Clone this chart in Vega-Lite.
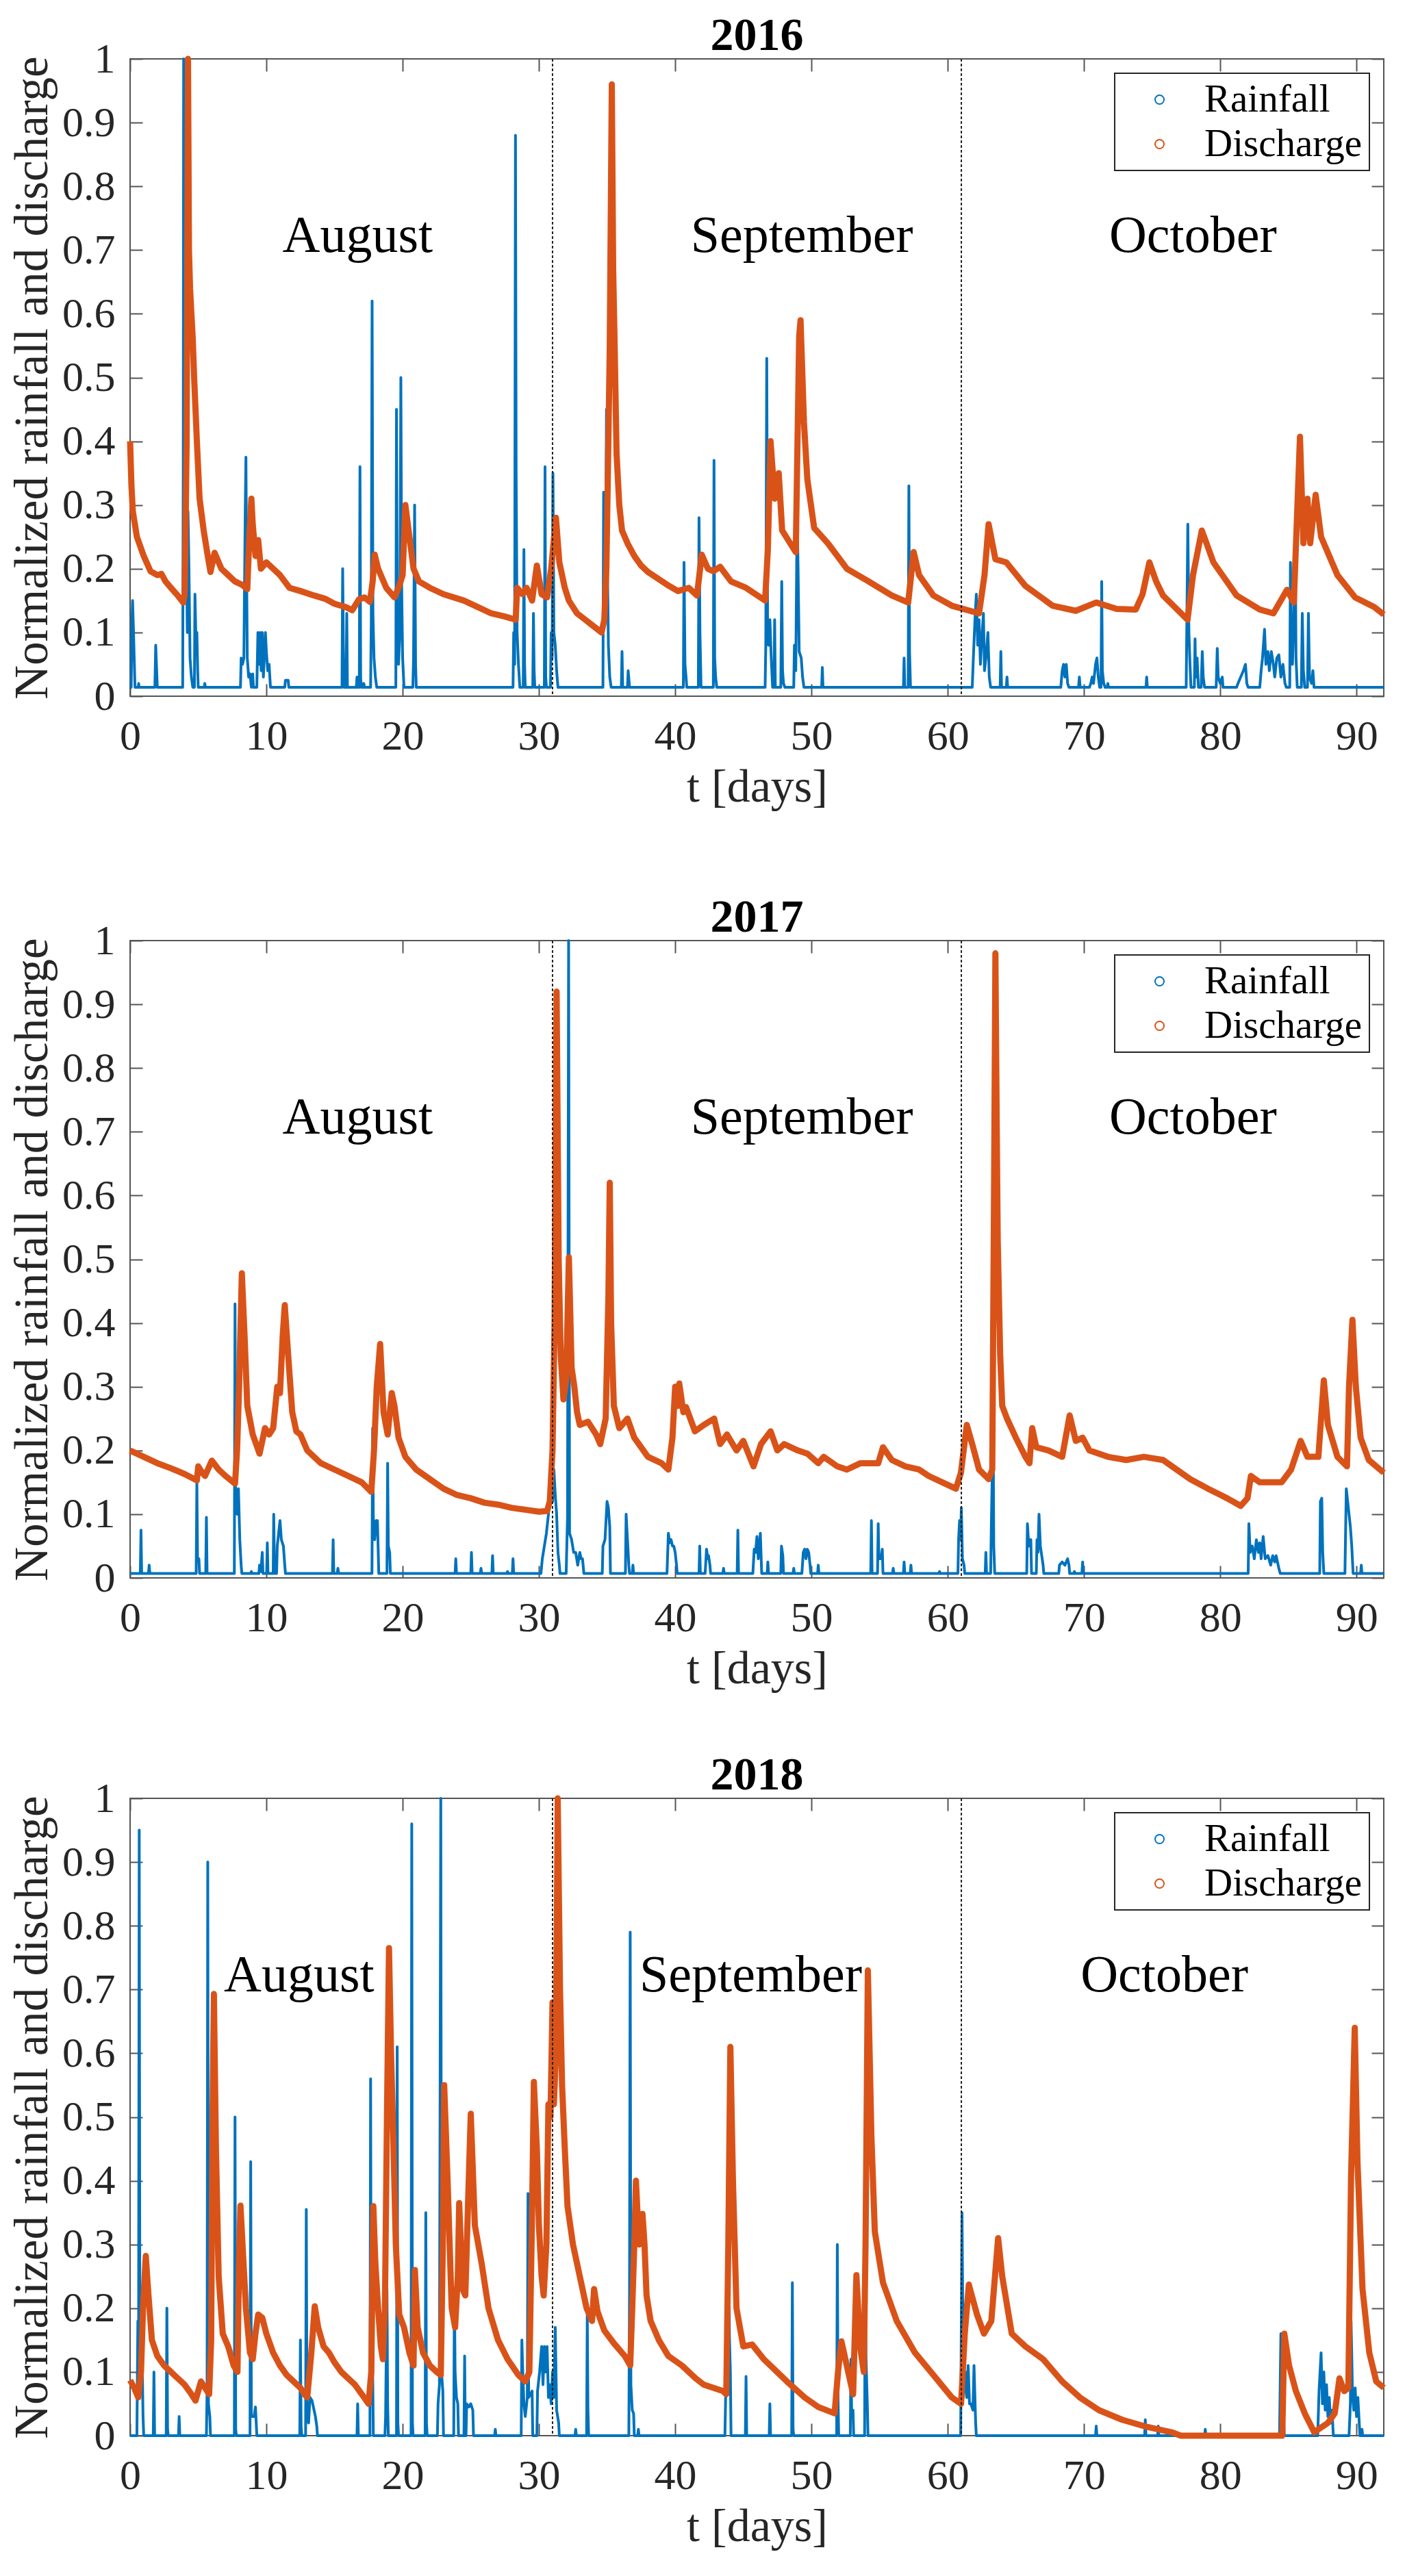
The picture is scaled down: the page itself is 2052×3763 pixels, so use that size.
{
  "$schema": "https://vega.github.io/schema/vega-lite/v6.json",
  "background": "white",
  "padding": {"left": 12, "top": 18, "right": 0, "bottom": 0},
  "config": {
    "font": "Liberation Serif",
    "style": {"guide-label": {"font": "Liberation Serif"}, "guide-title": {"font": "Liberation Serif"}},
    "view": {"stroke": "#555555", "strokeWidth": 2},
    "axis": {
      "labelFont": "Liberation Serif", "titleFont": "Liberation Serif",
      "grid": false, "domain": false,
      "tickColor": "#555555", "tickWidth": 2, "tickSize": -18,
      "labelFlush": false, "labelOverlap": false,
      "labelColor": "#262626", "titleColor": "#262626",
      "labelFontSize": 62, "titleFontSize": 68, "titleFontWeight": "normal"
    },
    "axisX": {"labelPadding": 46, "titlePadding": 10},
    "axisY": {"labelPadding": 40, "titlePadding": 8, "titleFontSize": 69},
    "title": {"font": "Liberation Serif", "fontSize": 68, "fontWeight": "bold", "color": "#000000", "baseline": "alphabetic", "offset": -32, "anchor": "middle"},
    "legend": {
      "orient": "top-right", "offset": 21,
      "labelFont": "Liberation Serif", "labelFontSize": 57, "labelColor": "#000000", "labelLimit": 0,
      "symbolType": "circle", "symbolSize": 170, "symbolStrokeWidth": 2,
      "strokeColor": "#262626", "strokeWidth": 2, "fillColor": "white",
      "padding": 10, "symbolOffset": 27, "labelOffset": 37, "rowPadding": 7
    }
  },
  "datasets": {
    "r2016": [
      {"t":0,"v":0.014},{"t":0.08,"v":0.014},{"t":0.12,"v":0.1},{"t":0.18,"v":0.15},{"t":0.24,"v":0.11},{"t":0.3,"v":0.06},{"t":0.36,"v":0.014},
      {"t":0.6,"v":0.014},{"t":0.63,"v":0.02},{"t":0.66,"v":0.014},
      {"t":1.82,"v":0.014},{"t":1.88,"v":0.08},{"t":1.95,"v":0.04},{"t":2.0,"v":0.014},
      {"t":3.86,"v":0.014},{"t":3.9,"v":0.34},{"t":3.93,"v":1.0},{"t":3.96,"v":0.64},{"t":4.0,"v":0.56},{"t":4.05,"v":0.45},{"t":4.1,"v":0.3},{"t":4.15,"v":0.2},{"t":4.2,"v":0.1},{"t":4.25,"v":0.29},{"t":4.32,"v":0.2},{"t":4.4,"v":0.06},{"t":4.5,"v":0.03},{"t":4.6,"v":0.014},
      {"t":4.72,"v":0.014},{"t":4.76,"v":0.16},{"t":4.82,"v":0.1},{"t":4.9,"v":0.1},{"t":4.96,"v":0.04},{"t":5.0,"v":0.014},
      {"t":5.45,"v":0.014},{"t":5.48,"v":0.02},{"t":5.52,"v":0.014},
      {"t":8.1,"v":0.014},{"t":8.15,"v":0.06},{"t":8.25,"v":0.05},{"t":8.35,"v":0.06},{"t":8.45,"v":0.29},{"t":8.5,"v":0.375},{"t":8.55,"v":0.2},{"t":8.6,"v":0.06},{"t":8.7,"v":0.03},{"t":8.8,"v":0.035},{"t":8.9,"v":0.014},{"t":9.0,"v":0.035},{"t":9.05,"v":0.014},
      {"t":9.3,"v":0.014},{"t":9.38,"v":0.1},{"t":9.45,"v":0.05},{"t":9.55,"v":0.1},{"t":9.62,"v":0.04},{"t":9.7,"v":0.1},{"t":9.78,"v":0.03},{"t":9.85,"v":0.06},{"t":9.93,"v":0.1},{"t":10.0,"v":0.07},{"t":10.1,"v":0.04},{"t":10.2,"v":0.05},{"t":10.3,"v":0.014},
      {"t":11.35,"v":0.014},{"t":11.4,"v":0.025},{"t":11.6,"v":0.025},{"t":11.65,"v":0.014},
      {"t":15.55,"v":0.014},{"t":15.6,"v":0.2},{"t":15.65,"v":0.08},{"t":15.7,"v":0.014},
      {"t":15.85,"v":0.014},{"t":15.9,"v":0.13},{"t":15.95,"v":0.014},
      {"t":16.6,"v":0.014},{"t":16.65,"v":0.03},{"t":16.7,"v":0.014},
      {"t":16.82,"v":0.014},{"t":16.87,"v":0.36},{"t":16.92,"v":0.03},{"t":16.97,"v":0.014},
      {"t":17.1,"v":0.014},{"t":17.15,"v":0.02},{"t":17.2,"v":0.014},
      {"t":17.65,"v":0.014},{"t":17.7,"v":0.12},{"t":17.76,"v":0.62},{"t":17.82,"v":0.13},{"t":17.9,"v":0.06},{"t":18.0,"v":0.03},{"t":18.1,"v":0.014},
      {"t":19.5,"v":0.014},{"t":19.55,"v":0.45},{"t":19.62,"v":0.07},{"t":19.7,"v":0.05},{"t":19.8,"v":0.1},{"t":19.87,"v":0.5},{"t":19.93,"v":0.17},{"t":20.0,"v":0.06},{"t":20.1,"v":0.014},
      {"t":20.75,"v":0.014},{"t":20.8,"v":0.06},{"t":20.88,"v":0.3},{"t":20.95,"v":0.05},{"t":21.0,"v":0.014},
      {"t":28.1,"v":0.014},{"t":28.15,"v":0.1},{"t":28.22,"v":0.05},{"t":28.28,"v":0.88},{"t":28.33,"v":0.35},{"t":28.4,"v":0.1},{"t":28.5,"v":0.05},{"t":28.6,"v":0.014},
      {"t":28.85,"v":0.014},{"t":28.9,"v":0.23},{"t":28.95,"v":0.05},{"t":29.0,"v":0.014},
      {"t":29.55,"v":0.014},{"t":29.6,"v":0.13},{"t":29.65,"v":0.04},{"t":29.7,"v":0.014},
      {"t":30.4,"v":0.014},{"t":30.45,"v":0.36},{"t":30.5,"v":0.03},{"t":30.55,"v":0.014},
      {"t":30.85,"v":0.014},{"t":30.9,"v":0.1},{"t":30.97,"v":0.06},{"t":31.03,"v":0.35},{"t":31.1,"v":0.1},{"t":31.2,"v":0.08},{"t":31.3,"v":0.04},{"t":31.4,"v":0.014},
      {"t":34.7,"v":0.014},{"t":34.75,"v":0.32},{"t":34.82,"v":0.12},{"t":34.9,"v":0.2},{"t":34.96,"v":0.45},{"t":35.03,"v":0.2},{"t":35.1,"v":0.08},{"t":35.2,"v":0.03},{"t":35.3,"v":0.014},
      {"t":36.05,"v":0.014},{"t":36.1,"v":0.07},{"t":36.15,"v":0.014},
      {"t":36.5,"v":0.014},{"t":36.55,"v":0.04},{"t":36.65,"v":0.014},
      {"t":40.6,"v":0.014},{"t":40.65,"v":0.21},{"t":40.72,"v":0.05},{"t":40.8,"v":0.03},{"t":40.85,"v":0.014},
      {"t":41.7,"v":0.014},{"t":41.75,"v":0.28},{"t":41.82,"v":0.1},{"t":41.9,"v":0.014},
      {"t":42.8,"v":0.014},{"t":42.85,"v":0.37},{"t":42.9,"v":0.06},{"t":42.97,"v":0.03},{"t":43.05,"v":0.014},
      {"t":46.6,"v":0.014},{"t":46.65,"v":0.08},{"t":46.72,"v":0.53},{"t":46.78,"v":0.12},{"t":46.85,"v":0.08},{"t":46.95,"v":0.12},{"t":47.05,"v":0.06},{"t":47.15,"v":0.014},
      {"t":47.25,"v":0.014},{"t":47.3,"v":0.12},{"t":47.35,"v":0.014},
      {"t":47.75,"v":0.014},{"t":47.82,"v":0.18},{"t":47.88,"v":0.04},{"t":47.95,"v":0.02},{"t":48.05,"v":0.014},
      {"t":48.7,"v":0.014},{"t":48.75,"v":0.08},{"t":48.85,"v":0.04},{"t":48.95,"v":0.29},{"t":49.02,"v":0.2},{"t":49.1,"v":0.07},{"t":49.25,"v":0.06},{"t":49.35,"v":0.03},{"t":49.45,"v":0.014},
      {"t":50.75,"v":0.014},{"t":50.8,"v":0.045},{"t":50.85,"v":0.014},
      {"t":56.75,"v":0.014},{"t":56.8,"v":0.06},{"t":56.85,"v":0.014},
      {"t":57.1,"v":0.014},{"t":57.15,"v":0.33},{"t":57.2,"v":0.07},{"t":57.27,"v":0.014},
      {"t":61.8,"v":0.014},{"t":61.9,"v":0.07},{"t":62.0,"v":0.12},{"t":62.1,"v":0.16},{"t":62.2,"v":0.08},{"t":62.3,"v":0.12},{"t":62.4,"v":0.05},{"t":62.5,"v":0.09},{"t":62.62,"v":0.13},{"t":62.7,"v":0.04},{"t":62.8,"v":0.06},{"t":62.95,"v":0.1},{"t":63.05,"v":0.03},{"t":63.15,"v":0.014},
      {"t":63.85,"v":0.014},{"t":63.9,"v":0.07},{"t":63.95,"v":0.014},
      {"t":64.3,"v":0.014},{"t":64.35,"v":0.03},{"t":64.4,"v":0.014},
      {"t":68.3,"v":0.014},{"t":68.4,"v":0.04},{"t":68.5,"v":0.05},{"t":68.6,"v":0.03},{"t":68.7,"v":0.05},{"t":68.8,"v":0.02},{"t":68.9,"v":0.014},
      {"t":69.6,"v":0.014},{"t":69.66,"v":0.03},{"t":69.72,"v":0.014},
      {"t":70.4,"v":0.014},{"t":70.5,"v":0.02},{"t":70.6,"v":0.03},{"t":70.7,"v":0.02},{"t":70.85,"v":0.05},{"t":70.95,"v":0.06},{"t":71.05,"v":0.03},{"t":71.15,"v":0.014},
      {"t":71.25,"v":0.014},{"t":71.3,"v":0.18},{"t":71.35,"v":0.04},{"t":71.45,"v":0.02},{"t":71.55,"v":0.014},
      {"t":71.7,"v":0.014},{"t":71.75,"v":0.02},{"t":71.8,"v":0.014},
      {"t":74.55,"v":0.014},{"t":74.6,"v":0.03},{"t":74.65,"v":0.014},
      {"t":77.5,"v":0.014},{"t":77.55,"v":0.12},{"t":77.62,"v":0.27},{"t":77.7,"v":0.1},{"t":77.78,"v":0.05},{"t":77.85,"v":0.014},
      {"t":78.1,"v":0.014},{"t":78.15,"v":0.09},{"t":78.2,"v":0.03},{"t":78.3,"v":0.06},{"t":78.4,"v":0.014},
      {"t":78.6,"v":0.014},{"t":78.68,"v":0.07},{"t":78.75,"v":0.03},{"t":78.85,"v":0.014},
      {"t":79.7,"v":0.014},{"t":79.78,"v":0.075},{"t":79.85,"v":0.03},{"t":80.0,"v":0.02},{"t":80.15,"v":0.03},{"t":80.2,"v":0.014},
      {"t":81.2,"v":0.014},{"t":81.3,"v":0.02},{"t":81.5,"v":0.03},{"t":81.7,"v":0.04},{"t":81.85,"v":0.05},{"t":81.95,"v":0.02},{"t":82.05,"v":0.014},
      {"t":82.9,"v":0.014},{"t":83.0,"v":0.04},{"t":83.1,"v":0.06},{"t":83.25,"v":0.105},{"t":83.35,"v":0.05},{"t":83.5,"v":0.07},{"t":83.6,"v":0.04},{"t":83.75,"v":0.07},{"t":83.9,"v":0.05},{"t":84.0,"v":0.03},{"t":84.15,"v":0.06},{"t":84.3,"v":0.065},{"t":84.45,"v":0.03},{"t":84.6,"v":0.05},{"t":84.75,"v":0.02},{"t":84.85,"v":0.014},
      {"t":85.1,"v":0.014},{"t":85.15,"v":0.21},{"t":85.22,"v":0.1},{"t":85.3,"v":0.05},{"t":85.4,"v":0.12},{"t":85.5,"v":0.26},{"t":85.56,"v":0.06},{"t":85.65,"v":0.014},
      {"t":85.95,"v":0.014},{"t":86.02,"v":0.13},{"t":86.1,"v":0.04},{"t":86.2,"v":0.014},
      {"t":86.4,"v":0.014},{"t":86.47,"v":0.13},{"t":86.55,"v":0.03},{"t":86.7,"v":0.02},{"t":86.8,"v":0.04},{"t":86.88,"v":0.014},
      {"t":92,"v":0.014}
    ],
    "q2016": [
      {"t":0,"v":0.4},{"t":0.1,"v":0.33},{"t":0.2,"v":0.29},{"t":0.5,"v":0.25},{"t":1,"v":0.22},{"t":1.5,"v":0.196},{"t":2,"v":0.19},{"t":2.3,"v":0.192},{"t":2.6,"v":0.18},{"t":3,"v":0.17},{"t":3.5,"v":0.158},{"t":3.9,"v":0.147},{"t":4.0,"v":0.16},{"t":4.05,"v":0.22},{"t":4.15,"v":0.4},{"t":4.25,"v":1.0},{"t":4.32,"v":0.7},{"t":4.4,"v":0.64},{"t":4.5,"v":0.6},{"t":4.6,"v":0.56},{"t":4.7,"v":0.5},{"t":4.8,"v":0.45},{"t":4.9,"v":0.4},{"t":5.1,"v":0.31},{"t":5.4,"v":0.26},{"t":5.7,"v":0.22},{"t":5.9,"v":0.195},{"t":6.2,"v":0.225},{"t":6.7,"v":0.2},{"t":7.2,"v":0.19},{"t":7.7,"v":0.18},{"t":8.2,"v":0.175},{"t":8.6,"v":0.168},{"t":8.75,"v":0.25},{"t":8.9,"v":0.31},{"t":9.0,"v":0.27},{"t":9.2,"v":0.22},{"t":9.4,"v":0.245},{"t":9.6,"v":0.2},{"t":10.0,"v":0.21},{"t":10.5,"v":0.2},{"t":11,"v":0.19},{"t":11.7,"v":0.17},{"t":12.5,"v":0.165},{"t":13.5,"v":0.158},{"t":14.3,"v":0.153},{"t":15,"v":0.145},{"t":15.8,"v":0.14},{"t":16.3,"v":0.135},{"t":16.8,"v":0.152},{"t":17.2,"v":0.155},{"t":17.6,"v":0.148},{"t":17.8,"v":0.18},{"t":17.95,"v":0.222},{"t":18.2,"v":0.2},{"t":18.8,"v":0.17},{"t":19.4,"v":0.155},{"t":19.7,"v":0.17},{"t":20.0,"v":0.19},{"t":20.2,"v":0.3},{"t":20.5,"v":0.25},{"t":20.8,"v":0.2},{"t":21.2,"v":0.18},{"t":22,"v":0.17},{"t":23,"v":0.16},{"t":24.5,"v":0.15},{"t":25.5,"v":0.14},{"t":26.5,"v":0.13},{"t":27.5,"v":0.125},{"t":28.3,"v":0.12},{"t":28.4,"v":0.17},{"t":28.8,"v":0.16},{"t":29.1,"v":0.17},{"t":29.5,"v":0.15},{"t":29.85,"v":0.205},{"t":30.2,"v":0.16},{"t":30.6,"v":0.155},{"t":30.9,"v":0.2},{"t":31.25,"v":0.28},{"t":31.5,"v":0.21},{"t":31.9,"v":0.17},{"t":32.2,"v":0.15},{"t":32.8,"v":0.13},{"t":33.4,"v":0.12},{"t":34,"v":0.11},{"t":34.6,"v":0.1},{"t":34.8,"v":0.12},{"t":34.95,"v":0.2},{"t":35.1,"v":0.4},{"t":35.2,"v":0.55},{"t":35.35,"v":0.96},{"t":35.45,"v":0.67},{"t":35.55,"v":0.56},{"t":35.7,"v":0.38},{"t":35.9,"v":0.3},{"t":36.1,"v":0.26},{"t":36.5,"v":0.24},{"t":37,"v":0.22},{"t":37.5,"v":0.205},{"t":38,"v":0.195},{"t":38.7,"v":0.185},{"t":39.4,"v":0.175},{"t":40.2,"v":0.165},{"t":41.0,"v":0.17},{"t":41.6,"v":0.158},{"t":41.95,"v":0.222},{"t":42.4,"v":0.2},{"t":42.8,"v":0.196},{"t":43.3,"v":0.203},{"t":44.1,"v":0.18},{"t":45.2,"v":0.17},{"t":46.6,"v":0.15},{"t":46.8,"v":0.23},{"t":47.0,"v":0.4},{"t":47.3,"v":0.31},{"t":47.6,"v":0.35},{"t":47.85,"v":0.26},{"t":48.85,"v":0.226},{"t":49.1,"v":0.565},{"t":49.2,"v":0.59},{"t":49.45,"v":0.43},{"t":49.7,"v":0.34},{"t":50.2,"v":0.264},{"t":51.2,"v":0.24},{"t":52.6,"v":0.2},{"t":54.2,"v":0.18},{"t":55.9,"v":0.158},{"t":57.1,"v":0.147},{"t":57.5,"v":0.226},{"t":57.9,"v":0.19},{"t":58.95,"v":0.158},{"t":60.3,"v":0.142},{"t":62.3,"v":0.13},{"t":62.7,"v":0.19},{"t":63.0,"v":0.27},{"t":63.5,"v":0.215},{"t":64.3,"v":0.21},{"t":65.7,"v":0.173},{"t":67.7,"v":0.142},{"t":69.4,"v":0.134},{"t":70.9,"v":0.147},{"t":72.4,"v":0.137},{"t":73.8,"v":0.136},{"t":74.3,"v":0.16},{"t":74.8,"v":0.21},{"t":75.3,"v":0.18},{"t":75.8,"v":0.158},{"t":77.6,"v":0.12},{"t":78.0,"v":0.19},{"t":78.65,"v":0.26},{"t":79.5,"v":0.21},{"t":81.2,"v":0.158},{"t":82.9,"v":0.136},{"t":83.9,"v":0.13},{"t":84.9,"v":0.167},{"t":85.4,"v":0.147},{"t":85.85,"v":0.407},{"t":86.1,"v":0.24},{"t":86.4,"v":0.31},{"t":86.6,"v":0.24},{"t":87.0,"v":0.316},{"t":87.4,"v":0.25},{"t":88.6,"v":0.19},{"t":89.9,"v":0.155},{"t":91.3,"v":0.14},{"t":92,"v":0.128}
    ],
    "r2017": [
      {"t":0,"v":0.007},
      {"t":0.75,"v":0.007},{"t":0.8,"v":0.075},{"t":0.85,"v":0.007},
      {"t":1.35,"v":0.007},{"t":1.4,"v":0.02},{"t":1.45,"v":0.007},
      {"t":4.85,"v":0.007},{"t":4.9,"v":0.15},{"t":4.95,"v":0.03},{"t":5.05,"v":0.03},{"t":5.1,"v":0.007},
      {"t":5.55,"v":0.007},{"t":5.6,"v":0.095},{"t":5.65,"v":0.007},
      {"t":7.65,"v":0.007},{"t":7.7,"v":0.43},{"t":7.75,"v":0.12},{"t":7.85,"v":0.1},{"t":7.95,"v":0.14},{"t":8.05,"v":0.06},{"t":8.15,"v":0.02},{"t":8.2,"v":0.007},
      {"t":8.85,"v":0.007},{"t":8.9,"v":0.01},{"t":8.95,"v":0.007},
      {"t":9.45,"v":0.007},{"t":9.5,"v":0.02},{"t":9.6,"v":0.01},{"t":9.7,"v":0.04},{"t":9.75,"v":0.007},
      {"t":10.02,"v":0.007},{"t":10.07,"v":0.055},{"t":10.12,"v":0.007},
      {"t":10.5,"v":0.007},{"t":10.54,"v":0.1},{"t":10.6,"v":0.007},
      {"t":10.75,"v":0.007},{"t":10.8,"v":0.05},{"t":10.9,"v":0.07},{"t":11.0,"v":0.09},{"t":11.1,"v":0.06},{"t":11.25,"v":0.05},{"t":11.35,"v":0.02},{"t":11.4,"v":0.007},
      {"t":14.85,"v":0.007},{"t":14.9,"v":0.06},{"t":14.95,"v":0.007},
      {"t":15.2,"v":0.007},{"t":15.25,"v":0.015},{"t":15.3,"v":0.007},
      {"t":17.75,"v":0.007},{"t":17.8,"v":0.235},{"t":17.85,"v":0.09},{"t":17.95,"v":0.06},{"t":18.05,"v":0.09},{"t":18.15,"v":0.09},{"t":18.25,"v":0.007},
      {"t":18.85,"v":0.007},{"t":18.9,"v":0.18},{"t":18.95,"v":0.05},{"t":19.05,"v":0.04},{"t":19.1,"v":0.007},
      {"t":23.85,"v":0.007},{"t":23.9,"v":0.03},{"t":23.95,"v":0.007},
      {"t":25.0,"v":0.007},{"t":25.05,"v":0.04},{"t":25.1,"v":0.007},
      {"t":25.7,"v":0.007},{"t":25.75,"v":0.015},{"t":25.8,"v":0.007},
      {"t":26.55,"v":0.007},{"t":26.6,"v":0.035},{"t":26.65,"v":0.007},
      {"t":27.65,"v":0.007},{"t":27.7,"v":0.01},{"t":27.75,"v":0.007},
      {"t":28.05,"v":0.007},{"t":28.1,"v":0.03},{"t":28.15,"v":0.007},
      {"t":30.15,"v":0.007},{"t":30.25,"v":0.03},{"t":30.4,"v":0.05},{"t":30.55,"v":0.07},{"t":30.7,"v":0.1},{"t":30.87,"v":0.15},{"t":31.0,"v":0.12},{"t":31.1,"v":0.17},{"t":31.2,"v":0.13},{"t":31.3,"v":0.1},{"t":31.4,"v":0.04},{"t":31.5,"v":0.02},{"t":31.55,"v":0.007},
      {"t":32.0,"v":0.007},{"t":32.1,"v":0.095},{"t":32.18,"v":1.0},{"t":32.25,"v":0.07},{"t":32.4,"v":0.06},{"t":32.55,"v":0.04},{"t":32.7,"v":0.04},{"t":32.85,"v":0.02},{"t":33.0,"v":0.04},{"t":33.1,"v":0.03},{"t":33.2,"v":0.03},{"t":33.3,"v":0.007},
      {"t":34.65,"v":0.007},{"t":34.7,"v":0.05},{"t":34.85,"v":0.06},{"t":35.0,"v":0.12},{"t":35.1,"v":0.11},{"t":35.2,"v":0.08},{"t":35.25,"v":0.007},
      {"t":36.35,"v":0.007},{"t":36.4,"v":0.1},{"t":36.5,"v":0.06},{"t":36.6,"v":0.02},{"t":36.65,"v":0.007},
      {"t":36.85,"v":0.007},{"t":36.9,"v":0.02},{"t":36.95,"v":0.007},
      {"t":39.4,"v":0.007},{"t":39.5,"v":0.07},{"t":39.6,"v":0.055},{"t":39.7,"v":0.06},{"t":39.8,"v":0.05},{"t":39.9,"v":0.05},{"t":40.0,"v":0.04},{"t":40.1,"v":0.02},{"t":40.15,"v":0.007},
      {"t":41.75,"v":0.007},{"t":41.8,"v":0.05},{"t":41.85,"v":0.007},
      {"t":42.2,"v":0.007},{"t":42.3,"v":0.045},{"t":42.4,"v":0.03},{"t":42.45,"v":0.035},{"t":42.55,"v":0.02},{"t":42.6,"v":0.007},
      {"t":43.5,"v":0.007},{"t":43.55,"v":0.015},{"t":43.6,"v":0.007},
      {"t":44.55,"v":0.007},{"t":44.6,"v":0.075},{"t":44.65,"v":0.007},
      {"t":45.7,"v":0.007},{"t":45.8,"v":0.045},{"t":45.9,"v":0.04},{"t":46.0,"v":0.065},{"t":46.1,"v":0.03},{"t":46.25,"v":0.07},{"t":46.35,"v":0.007},
      {"t":46.75,"v":0.007},{"t":46.8,"v":0.025},{"t":46.85,"v":0.007},
      {"t":47.75,"v":0.007},{"t":47.8,"v":0.05},{"t":47.9,"v":0.035},{"t":47.95,"v":0.007},
      {"t":48.65,"v":0.007},{"t":48.7,"v":0.015},{"t":48.75,"v":0.007},
      {"t":49.3,"v":0.007},{"t":49.4,"v":0.04},{"t":49.5,"v":0.045},{"t":49.6,"v":0.03},{"t":49.7,"v":0.045},{"t":49.8,"v":0.04},{"t":49.9,"v":0.02},{"t":49.95,"v":0.007},
      {"t":50.45,"v":0.007},{"t":50.5,"v":0.02},{"t":50.55,"v":0.007},
      {"t":54.35,"v":0.007},{"t":54.4,"v":0.09},{"t":54.45,"v":0.007},
      {"t":54.85,"v":0.007},{"t":54.9,"v":0.085},{"t":54.95,"v":0.03},{"t":55.1,"v":0.03},{"t":55.2,"v":0.045},{"t":55.25,"v":0.007},
      {"t":55.95,"v":0.007},{"t":56.0,"v":0.015},{"t":56.05,"v":0.007},
      {"t":56.75,"v":0.007},{"t":56.8,"v":0.025},{"t":56.85,"v":0.007},
      {"t":57.25,"v":0.007},{"t":57.3,"v":0.02},{"t":57.35,"v":0.007},
      {"t":59.35,"v":0.007},{"t":59.4,"v":0.01},{"t":59.45,"v":0.007},
      {"t":60.75,"v":0.007},{"t":60.8,"v":0.06},{"t":60.87,"v":0.09},{"t":60.95,"v":0.06},{"t":61.0,"v":0.11},{"t":61.08,"v":0.03},{"t":61.2,"v":0.02},{"t":61.25,"v":0.007},
      {"t":62.75,"v":0.007},{"t":62.8,"v":0.04},{"t":62.85,"v":0.007},
      {"t":63.15,"v":0.007},{"t":63.2,"v":0.08},{"t":63.27,"v":0.165},{"t":63.33,"v":0.26},{"t":63.38,"v":0.05},{"t":63.45,"v":0.007},
      {"t":65.8,"v":0.007},{"t":65.85,"v":0.085},{"t":65.95,"v":0.05},{"t":66.1,"v":0.06},{"t":66.15,"v":0.007},
      {"t":66.5,"v":0.007},{"t":66.55,"v":0.06},{"t":66.62,"v":0.04},{"t":66.7,"v":0.1},{"t":66.8,"v":0.05},{"t":66.9,"v":0.035},{"t":67.0,"v":0.02},{"t":67.05,"v":0.007},
      {"t":68.15,"v":0.007},{"t":68.2,"v":0.02},{"t":68.4,"v":0.025},{"t":68.6,"v":0.02},{"t":68.8,"v":0.03},{"t":68.9,"v":0.02},{"t":68.95,"v":0.007},
      {"t":69.25,"v":0.007},{"t":69.3,"v":0.01},{"t":69.35,"v":0.007},
      {"t":69.85,"v":0.007},{"t":69.9,"v":0.025},{"t":69.95,"v":0.007},
      {"t":82.05,"v":0.007},{"t":82.1,"v":0.085},{"t":82.2,"v":0.04},{"t":82.35,"v":0.05},{"t":82.5,"v":0.03},{"t":82.65,"v":0.06},{"t":82.8,"v":0.04},{"t":82.9,"v":0.055},{"t":83.0,"v":0.03},{"t":83.15,"v":0.065},{"t":83.3,"v":0.03},{"t":83.5,"v":0.035},{"t":83.7,"v":0.02},{"t":83.85,"v":0.035},{"t":84.0,"v":0.025},{"t":84.1,"v":0.035},{"t":84.3,"v":0.015},{"t":84.4,"v":0.007},
      {"t":87.3,"v":0.007},{"t":87.35,"v":0.12},{"t":87.45,"v":0.125},{"t":87.52,"v":0.04},{"t":87.6,"v":0.007},
      {"t":89.15,"v":0.007},{"t":89.25,"v":0.14},{"t":89.35,"v":0.12},{"t":89.45,"v":0.1},{"t":89.55,"v":0.08},{"t":89.65,"v":0.05},{"t":89.75,"v":0.007},
      {"t":90.3,"v":0.007},{"t":90.35,"v":0.02},{"t":90.4,"v":0.007},
      {"t":92,"v":0.007}
    ],
    "q2017": [
      {"t":0,"v":0.2},{"t":1,"v":0.19},{"t":2,"v":0.18},{"t":3,"v":0.172},{"t":4,"v":0.163},{"t":4.9,"v":0.153},{"t":5.0,"v":0.175},{"t":5.3,"v":0.165},{"t":5.5,"v":0.16},{"t":6.0,"v":0.184},{"t":6.5,"v":0.17},{"t":7,"v":0.16},{"t":7.7,"v":0.148},{"t":7.85,"v":0.2},{"t":8.0,"v":0.3},{"t":8.2,"v":0.478},{"t":8.4,"v":0.38},{"t":8.6,"v":0.27},{"t":9.0,"v":0.225},{"t":9.5,"v":0.195},{"t":9.9,"v":0.235},{"t":10.2,"v":0.225},{"t":10.5,"v":0.235},{"t":10.8,"v":0.3},{"t":11.0,"v":0.29},{"t":11.2,"v":0.38},{"t":11.35,"v":0.428},{"t":11.6,"v":0.35},{"t":11.9,"v":0.26},{"t":12.2,"v":0.23},{"t":12.5,"v":0.225},{"t":13,"v":0.2},{"t":14,"v":0.18},{"t":15,"v":0.17},{"t":16,"v":0.16},{"t":17,"v":0.15},{"t":17.7,"v":0.135},{"t":17.9,"v":0.2},{"t":18.1,"v":0.3},{"t":18.35,"v":0.367},{"t":18.6,"v":0.26},{"t":18.9,"v":0.225},{"t":19.2,"v":0.29},{"t":19.4,"v":0.27},{"t":19.7,"v":0.22},{"t":20.2,"v":0.19},{"t":21,"v":0.17},{"t":22,"v":0.155},{"t":23,"v":0.14},{"t":24,"v":0.13},{"t":25,"v":0.125},{"t":26,"v":0.118},{"t":27,"v":0.115},{"t":28,"v":0.11},{"t":29,"v":0.107},{"t":30,"v":0.104},{"t":30.6,"v":0.105},{"t":30.8,"v":0.12},{"t":31.0,"v":0.2},{"t":31.15,"v":0.4},{"t":31.3,"v":0.92},{"t":31.45,"v":0.5},{"t":31.6,"v":0.35},{"t":31.8,"v":0.28},{"t":32.0,"v":0.31},{"t":32.2,"v":0.503},{"t":32.4,"v":0.33},{"t":32.6,"v":0.3},{"t":32.8,"v":0.26},{"t":33.0,"v":0.24},{"t":33.6,"v":0.245},{"t":34.2,"v":0.225},{"t":34.5,"v":0.21},{"t":34.9,"v":0.25},{"t":35.1,"v":0.44},{"t":35.2,"v":0.62},{"t":35.3,"v":0.4},{"t":35.5,"v":0.27},{"t":35.9,"v":0.235},{"t":36.5,"v":0.25},{"t":37,"v":0.22},{"t":38,"v":0.19},{"t":39,"v":0.18},{"t":39.5,"v":0.17},{"t":39.8,"v":0.22},{"t":40.0,"v":0.3},{"t":40.2,"v":0.27},{"t":40.3,"v":0.305},{"t":40.6,"v":0.26},{"t":40.8,"v":0.268},{"t":41.45,"v":0.23},{"t":42.1,"v":0.24},{"t":42.86,"v":0.25},{"t":43.3,"v":0.21},{"t":43.8,"v":0.225},{"t":44.5,"v":0.2},{"t":45,"v":0.215},{"t":45.75,"v":0.175},{"t":46.3,"v":0.21},{"t":47.0,"v":0.23},{"t":47.5,"v":0.2},{"t":48.0,"v":0.21},{"t":49.0,"v":0.2},{"t":49.7,"v":0.195},{"t":50.5,"v":0.18},{"t":50.9,"v":0.19},{"t":51.9,"v":0.175},{"t":52.6,"v":0.17},{"t":53.6,"v":0.18},{"t":54.9,"v":0.18},{"t":55.25,"v":0.205},{"t":55.9,"v":0.185},{"t":56.9,"v":0.175},{"t":57.9,"v":0.17},{"t":58.6,"v":0.16},{"t":59.6,"v":0.15},{"t":60.6,"v":0.14},{"t":60.97,"v":0.165},{"t":61.4,"v":0.24},{"t":61.8,"v":0.21},{"t":62.3,"v":0.17},{"t":63.0,"v":0.155},{"t":63.27,"v":0.17},{"t":63.4,"v":0.6},{"t":63.5,"v":0.98},{"t":63.6,"v":0.7},{"t":63.67,"v":0.53},{"t":63.85,"v":0.35},{"t":64.0,"v":0.27},{"t":64.35,"v":0.25},{"t":65.0,"v":0.22},{"t":65.7,"v":0.19},{"t":66.0,"v":0.18},{"t":66.2,"v":0.235},{"t":66.5,"v":0.205},{"t":67.4,"v":0.2},{"t":68.4,"v":0.19},{"t":68.95,"v":0.255},{"t":69.4,"v":0.215},{"t":69.9,"v":0.22},{"t":70.4,"v":0.2},{"t":71.75,"v":0.19},{"t":73.1,"v":0.185},{"t":74.4,"v":0.19},{"t":75.8,"v":0.185},{"t":76.8,"v":0.17},{"t":77.8,"v":0.155},{"t":79.1,"v":0.14},{"t":80.5,"v":0.125},{"t":81.5,"v":0.113},{"t":82.0,"v":0.125},{"t":82.25,"v":0.16},{"t":82.9,"v":0.15},{"t":84.5,"v":0.15},{"t":85.2,"v":0.17},{"t":85.9,"v":0.215},{"t":86.4,"v":0.19},{"t":87.2,"v":0.19},{"t":87.6,"v":0.31},{"t":87.9,"v":0.24},{"t":88.6,"v":0.19},{"t":89.3,"v":0.175},{"t":89.45,"v":0.3},{"t":89.7,"v":0.405},{"t":89.95,"v":0.3},{"t":90.3,"v":0.22},{"t":90.9,"v":0.185},{"t":92,"v":0.165}
    ],
    "r2018": [
      {"t":0,"v":0},
      {"t":0.5,"v":0},{"t":0.57,"v":0.18},{"t":0.62,"v":0.07},{"t":0.67,"v":0.95},{"t":0.72,"v":0.1},{"t":0.8,"v":0.08},{"t":0.9,"v":0.1},{"t":0.95,"v":0.03},{"t":1.0,"v":0},
      {"t":1.7,"v":0},{"t":1.75,"v":0.1},{"t":1.8,"v":0},
      {"t":2.65,"v":0},{"t":2.7,"v":0.2},{"t":2.75,"v":0.01},{"t":2.8,"v":0},
      {"t":3.55,"v":0},{"t":3.6,"v":0.03},{"t":3.65,"v":0},
      {"t":5.6,"v":0},{"t":5.65,"v":0.07},{"t":5.7,"v":0.9},{"t":5.75,"v":0.05},{"t":5.85,"v":0.03},{"t":5.9,"v":0},
      {"t":7.65,"v":0},{"t":7.7,"v":0.5},{"t":7.75,"v":0.01},{"t":7.8,"v":0},
      {"t":8.8,"v":0},{"t":8.85,"v":0.43},{"t":8.9,"v":0.03},{"t":9.1,"v":0.03},{"t":9.2,"v":0.045},{"t":9.3,"v":0},
      {"t":12.45,"v":0},{"t":12.5,"v":0.15},{"t":12.55,"v":0.015},{"t":12.6,"v":0},
      {"t":12.88,"v":0},{"t":12.93,"v":0.355},{"t":12.98,"v":0.03},{"t":13.1,"v":0.02},{"t":13.2,"v":0.06},{"t":13.35,"v":0.055},{"t":13.5,"v":0.04},{"t":13.6,"v":0.03},{"t":13.7,"v":0.015},{"t":13.75,"v":0},
      {"t":16.65,"v":0},{"t":16.7,"v":0.05},{"t":16.75,"v":0},
      {"t":17.6,"v":0},{"t":17.65,"v":0.56},{"t":17.7,"v":0.05},{"t":17.75,"v":0.28},{"t":17.8,"v":0.1},{"t":17.85,"v":0},
      {"t":18.7,"v":0},{"t":18.75,"v":0.03},{"t":18.85,"v":0.23},{"t":18.9,"v":0.05},{"t":18.95,"v":0},
      {"t":19.55,"v":0},{"t":19.6,"v":0.61},{"t":19.65,"v":0.02},{"t":19.7,"v":0},
      {"t":20.62,"v":0},{"t":20.67,"v":0.96},{"t":20.72,"v":0.02},{"t":20.77,"v":0},
      {"t":21.65,"v":0},{"t":21.7,"v":0.35},{"t":21.75,"v":0.02},{"t":21.8,"v":0},
      {"t":22.55,"v":0},{"t":22.6,"v":0.05},{"t":22.7,"v":0.08},{"t":22.8,"v":1.0},{"t":22.85,"v":0.1},{"t":22.95,"v":0.07},{"t":23.0,"v":0},
      {"t":23.75,"v":0},{"t":23.8,"v":0.23},{"t":23.85,"v":0.1},{"t":23.95,"v":0.06},{"t":24.05,"v":0.05},{"t":24.1,"v":0},
      {"t":24.5,"v":0},{"t":24.55,"v":0.125},{"t":24.6,"v":0},
      {"t":24.65,"v":0},{"t":24.7,"v":0.05},{"t":24.85,"v":0.045},{"t":25.0,"v":0.05},{"t":25.15,"v":0.04},{"t":25.2,"v":0},
      {"t":26.75,"v":0},{"t":26.8,"v":0.01},{"t":26.85,"v":0},
      {"t":28.7,"v":0},{"t":28.75,"v":0.15},{"t":28.8,"v":0.11},{"t":28.9,"v":0.05},{"t":29.0,"v":0.03},{"t":29.15,"v":0.06},{"t":29.2,"v":0.38},{"t":29.25,"v":0.06},{"t":29.5,"v":0.07},{"t":29.55,"v":0},
      {"t":29.85,"v":0},{"t":29.9,"v":0.07},{"t":30.05,"v":0.1},{"t":30.2,"v":0.14},{"t":30.3,"v":0.08},{"t":30.4,"v":0.14},{"t":30.5,"v":0.1},{"t":30.6,"v":0.14},{"t":30.7,"v":0.06},{"t":30.8,"v":0.08},{"t":30.9,"v":0.05},{"t":31.0,"v":0.1},{"t":31.1,"v":0.06},{"t":31.2,"v":0.17},{"t":31.3,"v":0.04},{"t":31.45,"v":0.02},{"t":31.5,"v":0},
      {"t":32.65,"v":0},{"t":32.7,"v":0.01},{"t":32.75,"v":0},
      {"t":33.5,"v":0},{"t":33.55,"v":0.19},{"t":33.6,"v":0.04},{"t":33.65,"v":0},
      {"t":36.6,"v":0},{"t":36.65,"v":0.22},{"t":36.7,"v":0.79},{"t":36.75,"v":0.08},{"t":36.85,"v":0.04},{"t":36.95,"v":0.035},{"t":37.0,"v":0},
      {"t":37.25,"v":0},{"t":37.3,"v":0.01},{"t":37.35,"v":0},
      {"t":43.65,"v":0},{"t":43.74,"v":0.1},{"t":43.9,"v":0.43},{"t":43.98,"v":0.156},{"t":44.05,"v":0.1},{"t":44.1,"v":0},
      {"t":45.15,"v":0},{"t":45.2,"v":0.093},{"t":45.25,"v":0},
      {"t":46.9,"v":0},{"t":46.95,"v":0.05},{"t":47.0,"v":0},
      {"t":48.55,"v":0},{"t":48.6,"v":0.24},{"t":48.65,"v":0.01},{"t":48.7,"v":0},
      {"t":51.85,"v":0},{"t":51.9,"v":0.3},{"t":51.95,"v":0.06},{"t":52.0,"v":0},
      {"t":52.85,"v":0},{"t":52.9,"v":0.12},{"t":52.95,"v":0.04},{"t":53.05,"v":0.04},{"t":53.1,"v":0},
      {"t":53.9,"v":0},{"t":53.95,"v":0.25},{"t":54.0,"v":0.125},{"t":54.1,"v":0.05},{"t":54.15,"v":0},
      {"t":60.95,"v":0},{"t":61.05,"v":0.35},{"t":61.15,"v":0.06},{"t":61.3,"v":0.1},{"t":61.4,"v":0.06},{"t":61.5,"v":0.11},{"t":61.6,"v":0.05},{"t":61.7,"v":0.05},{"t":61.85,"v":0.04},{"t":61.93,"v":0.11},{"t":62.05,"v":0.02},{"t":62.1,"v":0},
      {"t":70.85,"v":0},{"t":70.9,"v":0.015},{"t":70.95,"v":0},
      {"t":74.45,"v":0},{"t":74.5,"v":0.025},{"t":74.55,"v":0},
      {"t":75.4,"v":0},{"t":75.45,"v":0.015},{"t":75.5,"v":0},
      {"t":78.85,"v":0},{"t":78.9,"v":0.01},{"t":78.95,"v":0},
      {"t":84.35,"v":0},{"t":84.45,"v":0.16},{"t":84.5,"v":0.1},{"t":84.6,"v":0.12},{"t":84.65,"v":0.03},{"t":84.7,"v":0},
      {"t":87.15,"v":0},{"t":87.25,"v":0.07},{"t":87.4,"v":0.13},{"t":87.5,"v":0.05},{"t":87.6,"v":0.1},{"t":87.7,"v":0.04},{"t":87.8,"v":0.08},{"t":87.9,"v":0.03},{"t":88.0,"v":0.06},{"t":88.1,"v":0.02},{"t":88.2,"v":0.04},{"t":88.3,"v":0},
      {"t":89.45,"v":0},{"t":89.55,"v":0.05},{"t":89.6,"v":0.18},{"t":89.7,"v":0.07},{"t":89.8,"v":0.04},{"t":89.9,"v":0.075},{"t":90.0,"v":0.03},{"t":90.1,"v":0.06},{"t":90.2,"v":0.02},{"t":90.25,"v":0},
      {"t":90.35,"v":0},{"t":90.4,"v":0.01},{"t":90.45,"v":0},
      {"t":92,"v":0}
    ],
    "q2018": [
      {"t":0,"v":0.087},{"t":0.3,"v":0.075},{"t":0.6,"v":0.06},{"t":0.8,"v":0.1},{"t":0.95,"v":0.2},{"t":1.15,"v":0.282},{"t":1.35,"v":0.22},{"t":1.6,"v":0.15},{"t":2,"v":0.125},{"t":2.5,"v":0.11},{"t":3,"v":0.1},{"t":3.5,"v":0.09},{"t":4,"v":0.08},{"t":4.5,"v":0.065},{"t":4.8,"v":0.055},{"t":5.0,"v":0.07},{"t":5.2,"v":0.085},{"t":5.5,"v":0.075},{"t":5.8,"v":0.065},{"t":5.95,"v":0.15},{"t":6.05,"v":0.5},{"t":6.15,"v":0.693},{"t":6.3,"v":0.45},{"t":6.5,"v":0.25},{"t":6.8,"v":0.16},{"t":7.2,"v":0.14},{"t":7.6,"v":0.11},{"t":7.88,"v":0.1},{"t":8.0,"v":0.28},{"t":8.1,"v":0.361},{"t":8.25,"v":0.3},{"t":8.5,"v":0.2},{"t":8.8,"v":0.13},{"t":9.0,"v":0.12},{"t":9.2,"v":0.16},{"t":9.4,"v":0.19},{"t":9.7,"v":0.185},{"t":10.0,"v":0.16},{"t":10.5,"v":0.13},{"t":11,"v":0.11},{"t":11.5,"v":0.095},{"t":12,"v":0.085},{"t":12.5,"v":0.075},{"t":12.8,"v":0.065},{"t":13.0,"v":0.06},{"t":13.3,"v":0.13},{"t":13.55,"v":0.203},{"t":13.8,"v":0.17},{"t":14.2,"v":0.14},{"t":14.6,"v":0.13},{"t":15,"v":0.115},{"t":15.5,"v":0.1},{"t":16,"v":0.09},{"t":16.5,"v":0.08},{"t":17,"v":0.065},{"t":17.5,"v":0.05},{"t":17.7,"v":0.1},{"t":17.85,"v":0.36},{"t":18.0,"v":0.27},{"t":18.2,"v":0.2},{"t":18.4,"v":0.14},{"t":18.55,"v":0.12},{"t":18.7,"v":0.2},{"t":18.85,"v":0.5},{"t":19.0,"v":0.765},{"t":19.15,"v":0.6},{"t":19.3,"v":0.48},{"t":19.5,"v":0.3},{"t":19.75,"v":0.19},{"t":20.1,"v":0.17},{"t":20.5,"v":0.13},{"t":20.8,"v":0.11},{"t":20.9,"v":0.26},{"t":21.1,"v":0.17},{"t":21.5,"v":0.13},{"t":22,"v":0.11},{"t":22.5,"v":0.1},{"t":22.8,"v":0.095},{"t":22.95,"v":0.3},{"t":23.05,"v":0.55},{"t":23.3,"v":0.4},{"t":23.6,"v":0.2},{"t":23.85,"v":0.17},{"t":24.05,"v":0.25},{"t":24.15,"v":0.365},{"t":24.4,"v":0.23},{"t":24.6,"v":0.22},{"t":24.85,"v":0.4},{"t":25.0,"v":0.505},{"t":25.3,"v":0.33},{"t":25.8,"v":0.27},{"t":26.3,"v":0.2},{"t":27,"v":0.15},{"t":27.7,"v":0.12},{"t":28.5,"v":0.095},{"t":29.0,"v":0.085},{"t":29.3,"v":0.1},{"t":29.5,"v":0.35},{"t":29.63,"v":0.555},{"t":29.85,"v":0.45},{"t":30.0,"v":0.33},{"t":30.2,"v":0.25},{"t":30.35,"v":0.22},{"t":30.55,"v":0.3},{"t":30.7,"v":0.52},{"t":30.85,"v":0.5},{"t":31.0,"v":0.68},{"t":31.1,"v":0.52},{"t":31.25,"v":0.6},{"t":31.38,"v":1.0},{"t":31.55,"v":0.7},{"t":31.7,"v":0.55},{"t":31.9,"v":0.45},{"t":32.1,"v":0.36},{"t":32.5,"v":0.3},{"t":33,"v":0.25},{"t":33.5,"v":0.2},{"t":33.9,"v":0.18},{"t":34.05,"v":0.23},{"t":34.3,"v":0.195},{"t":34.8,"v":0.165},{"t":35.5,"v":0.145},{"t":36.3,"v":0.125},{"t":36.7,"v":0.11},{"t":36.85,"v":0.2},{"t":37.0,"v":0.3},{"t":37.12,"v":0.4},{"t":37.35,"v":0.3},{"t":37.6,"v":0.348},{"t":37.75,"v":0.3},{"t":37.9,"v":0.22},{"t":38.2,"v":0.18},{"t":38.8,"v":0.15},{"t":39.5,"v":0.125},{"t":40.5,"v":0.11},{"t":41.5,"v":0.09},{"t":42.1,"v":0.08},{"t":43.5,"v":0.07},{"t":43.75,"v":0.065},{"t":43.9,"v":0.3},{"t":44.05,"v":0.61},{"t":44.24,"v":0.4},{"t":44.5,"v":0.2},{"t":45.0,"v":0.14},{"t":45.65,"v":0.143},{"t":46.5,"v":0.12},{"t":48.2,"v":0.085},{"t":49.5,"v":0.06},{"t":50.5,"v":0.045},{"t":51.7,"v":0.035},{"t":51.95,"v":0.1},{"t":52.2,"v":0.148},{"t":52.7,"v":0.1},{"t":53.06,"v":0.065},{"t":53.3,"v":0.252},{"t":53.57,"v":0.14},{"t":53.84,"v":0.1},{"t":53.97,"v":0.3},{"t":54.14,"v":0.73},{"t":54.4,"v":0.47},{"t":54.65,"v":0.32},{"t":55.25,"v":0.24},{"t":56.26,"v":0.18},{"t":57.6,"v":0.13},{"t":58.96,"v":0.095},{"t":60.3,"v":0.06},{"t":60.98,"v":0.05},{"t":61.25,"v":0.16},{"t":61.55,"v":0.237},{"t":62.15,"v":0.19},{"t":62.66,"v":0.16},{"t":63.2,"v":0.18},{"t":63.7,"v":0.31},{"t":64.0,"v":0.25},{"t":64.7,"v":0.16},{"t":65.7,"v":0.14},{"t":67.0,"v":0.12},{"t":68.4,"v":0.085},{"t":69.7,"v":0.06},{"t":71.1,"v":0.04},{"t":72.8,"v":0.025},{"t":74.4,"v":0.015},{"t":76.5,"v":0.005},{"t":77.1,"v":0},{"t":84.55,"v":0},{"t":84.7,"v":0.16},{"t":85.05,"v":0.11},{"t":85.55,"v":0.07},{"t":86.2,"v":0.035},{"t":86.9,"v":0.005},{"t":87.2,"v":0.01},{"t":87.9,"v":0.02},{"t":88.4,"v":0.035},{"t":88.75,"v":0.09},{"t":89.1,"v":0.07},{"t":89.4,"v":0.075},{"t":89.6,"v":0.407},{"t":89.87,"v":0.64},{"t":90.07,"v":0.43},{"t":90.44,"v":0.23},{"t":90.94,"v":0.13},{"t":91.45,"v":0.085},{"t":92,"v":0.075}
    ],
    "months": [{"t":31},{"t":61}]
  },
  "spacing": 121,
  "resolve": {"scale": {"color": "independent"}, "legend": {"color": "independent"}},
  "vconcat": [
    {
      "title": {"text": "2016"},
      "width": 1831, "height": 931,
      "resolve": {"axis": {"x": "independent", "y": "independent"}},
      "layer": [
        {
          "data": {"name": "r2016"},
          "mark": {"type": "line", "strokeWidth": 4, "strokeJoin": "round"},
          "encoding": {
            "x": {"field": "t", "type": "quantitative", "scale": {"domain": [0, 92], "nice": false}, "axis": {"values": [0,10,20,30,40,50,60,70,80,90], "title": "t [days]", "labelFont": "Liberation Serif"}},
            "y": {"field": "v", "type": "quantitative", "scale": {"domain": [0, 1], "nice": false}, "axis": {"values": [0,0.1,0.2,0.3,0.4,0.5,0.6,0.7,0.8,0.9,1], "format": "~g", "title": "Normalized rainfall and discharge", "labelFont": "Liberation Serif"}},
            "color": {"datum": "Rainfall", "scale": {"domain": ["Rainfall", "Discharge"], "range": ["#0072BD", "#D95319"]}, "legend": {"title": null}}
          }
        },
        {
          "data": {"name": "q2016"},
          "mark": {"type": "line", "strokeWidth": 9, "strokeJoin": "round"},
          "encoding": {
            "x": {"field": "t", "type": "quantitative", "axis": null},
            "y": {"field": "v", "type": "quantitative", "axis": null},
            "color": {"datum": "Discharge", "legend": {"title": null}}
          }
        },
        {
          "data": {"name": "months"},
          "mark": {"type": "rule", "color": "#222222", "strokeWidth": 2, "strokeDash": [4, 3]},
          "encoding": {"x": {"field": "t", "type": "quantitative", "axis": null}}
        },
        {
          "data": {"values": [{"t": 16.7, "m": "August"}, {"t": 49.3, "m": "September"}, {"t": 78.0, "m": "October"}]},
          "mark": {"type": "text", "font": "Liberation Serif", "fontSize": 76, "color": "#000000", "align": "center", "baseline": "alphabetic"},
          "encoding": {
            "x": {"field": "t", "type": "quantitative", "axis": {"orient": "top", "labels": false, "title": null, "values": [0,10,20,30,40,50,60,70,80,90]}},
            "y": {"datum": 0.697, "type": "quantitative", "axis": {"orient": "right", "labels": false, "title": null, "values": [0,0.1,0.2,0.3,0.4,0.5,0.6,0.7,0.8,0.9,1]}},
            "text": {"field": "m"}
          }
        }
      ]
    },
    {
      "spacing": 86,
      "resolve": {"scale": {"color": "independent"}, "legend": {"color": "independent"}},
      "vconcat": [
        {
          "title": {"text": "2017"},
          "width": 1831, "height": 931,
          "resolve": {"axis": {"x": "independent", "y": "independent"}},
          "layer": [
            {
              "data": {"name": "r2017"},
              "mark": {"type": "line", "strokeWidth": 4, "strokeJoin": "round"},
              "encoding": {
                "x": {"field": "t", "type": "quantitative", "scale": {"domain": [0, 92], "nice": false}, "axis": {"values": [0,10,20,30,40,50,60,70,80,90], "title": "t [days]", "labelFont": "Liberation Serif"}},
                "y": {"field": "v", "type": "quantitative", "scale": {"domain": [0, 1], "nice": false}, "axis": {"values": [0,0.1,0.2,0.3,0.4,0.5,0.6,0.7,0.8,0.9,1], "format": "~g", "title": "Normalized rainfall and discharge", "labelFont": "Liberation Serif"}},
                "color": {"datum": "Rainfall", "scale": {"domain": ["Rainfall", "Discharge"], "range": ["#0072BD", "#D95319"]}, "legend": {"title": null}}
              }
            },
            {
              "data": {"name": "q2017"},
              "mark": {"type": "line", "strokeWidth": 9, "strokeJoin": "round"},
              "encoding": {
                "x": {"field": "t", "type": "quantitative", "axis": null},
                "y": {"field": "v", "type": "quantitative", "axis": null},
                "color": {"datum": "Discharge", "legend": {"title": null}}
              }
            },
            {
              "data": {"name": "months"},
              "mark": {"type": "rule", "color": "#222222", "strokeWidth": 2, "strokeDash": [4, 3]},
              "encoding": {"x": {"field": "t", "type": "quantitative", "axis": null}}
            },
            {
              "data": {"values": [{"t": 16.7, "m": "August"}, {"t": 49.3, "m": "September"}, {"t": 78.0, "m": "October"}]},
              "mark": {"type": "text", "font": "Liberation Serif", "fontSize": 76, "color": "#000000", "align": "center", "baseline": "alphabetic"},
              "encoding": {
                "x": {"field": "t", "type": "quantitative", "axis": {"orient": "top", "labels": false, "title": null, "values": [0,10,20,30,40,50,60,70,80,90]}},
                "y": {"datum": 0.697, "type": "quantitative", "axis": {"orient": "right", "labels": false, "title": null, "values": [0,0.1,0.2,0.3,0.4,0.5,0.6,0.7,0.8,0.9,1]}},
                "text": {"field": "m"}
              }
            }
          ]
        },
        {
          "title": {"text": "2018"},
          "width": 1831, "height": 931,
          "resolve": {"axis": {"x": "independent", "y": "independent"}},
          "layer": [
            {
              "data": {"name": "r2018"},
              "mark": {"type": "line", "strokeWidth": 4, "strokeJoin": "round"},
              "encoding": {
                "x": {"field": "t", "type": "quantitative", "scale": {"domain": [0, 92], "nice": false}, "axis": {"values": [0,10,20,30,40,50,60,70,80,90], "title": "t [days]", "labelFont": "Liberation Serif"}},
                "y": {"field": "v", "type": "quantitative", "scale": {"domain": [0, 1], "nice": false}, "axis": {"values": [0,0.1,0.2,0.3,0.4,0.5,0.6,0.7,0.8,0.9,1], "format": "~g", "title": "Normalized rainfall and discharge", "labelFont": "Liberation Serif"}},
                "color": {"datum": "Rainfall", "scale": {"domain": ["Rainfall", "Discharge"], "range": ["#0072BD", "#D95319"]}, "legend": {"title": null}}
              }
            },
            {
              "data": {"name": "q2018"},
              "mark": {"type": "line", "strokeWidth": 9, "strokeJoin": "round"},
              "encoding": {
                "x": {"field": "t", "type": "quantitative", "axis": null},
                "y": {"field": "v", "type": "quantitative", "axis": null},
                "color": {"datum": "Discharge", "legend": {"title": null}}
              }
            },
            {
              "data": {"name": "months"},
              "mark": {"type": "rule", "color": "#222222", "strokeWidth": 2, "strokeDash": [4, 3]},
              "encoding": {"x": {"field": "t", "type": "quantitative", "axis": null}}
            },
            {
              "data": {"values": [{"t": 12.4, "m": "August"}, {"t": 45.55, "m": "September"}, {"t": 75.9, "m": "October"}]},
              "mark": {"type": "text", "font": "Liberation Serif", "fontSize": 76, "color": "#000000", "align": "center", "baseline": "alphabetic"},
              "encoding": {
                "x": {"field": "t", "type": "quantitative", "axis": {"orient": "top", "labels": false, "title": null, "values": [0,10,20,30,40,50,60,70,80,90]}},
                "y": {"datum": 0.697, "type": "quantitative", "axis": {"orient": "right", "labels": false, "title": null, "values": [0,0.1,0.2,0.3,0.4,0.5,0.6,0.7,0.8,0.9,1]}},
                "text": {"field": "m"}
              }
            }
          ]
        }
      ]
    }
  ]
}
